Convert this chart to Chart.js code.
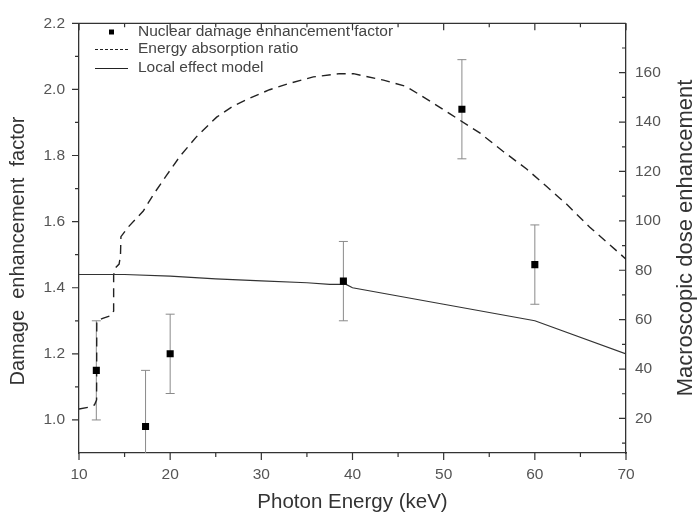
<!DOCTYPE html>
<html>
<head>
<meta charset="utf-8">
<script src="https://cdn.jsdelivr.net/npm/chart.js@4.4.0/dist/chart.umd.min.js"></script>
<style>
  html, body { margin: 0; padding: 0; background: #fff; }
</style>
</head>
<body>
<canvas id="chart" width="700" height="519"></canvas>
<script>
const FONT = '"Liberation Sans", Arial, sans-serif';

// measured points (left axis) with symmetric error bars
const pointEnergy = [11.9, 17.3, 20, 39, 52, 60];
const pointFactor = [1.15, 0.98, 1.20, 1.42, 1.94, 1.47];
const pointErr = [0.15, 0.17, 0.12, 0.12, 0.15, 0.12];

// energy absorption ratio (right axis)
const ratioEnergy = [10, 11.0, 11.7, 11.93, 11.95, 12.6, 13.6, 13.8, 13.8, 14.0, 14.4, 14.55, 14.6,
  15.4, 17.05, 18.15, 19.6, 21.1, 22.9, 25.1, 26.9, 28.8, 30.9, 33.1, 35.7, 38.6, 40.1,
  43.4, 45.9, 48.5, 50.7, 54.0, 56.5, 59.1, 61.3, 63.5, 66.0, 68.2, 70];
const ratioValue = [23.8, 24.5, 25.5, 27.5, 59.5, 60.5, 61.8, 63.5, 78, 81, 82.5, 86, 93.6,
  97.5, 104, 110.6, 118.4, 126.3, 134.1, 142, 146.5, 149.8, 153.1, 155.7, 158.3, 159.6, 159.6,
  157, 154.4, 148.5, 143.3, 135.5, 128.2, 121, 113.9, 106.7, 97.5, 90.4, 84.5];

// local effect model (left axis)
const lemEnergy = [10, 15, 20, 25, 30, 35, 37.5, 39.3, 40, 50, 60, 70];
const lemValue = [1.44, 1.44, 1.435, 1.427, 1.421, 1.415, 1.41, 1.41, 1.40, 1.35, 1.30, 1.20];

// ticks
const xTicks = [10, 20, 30, 40, 50, 60, 70];
const xMinor = [15, 25, 35, 45, 55, 65];
const yTicks = [1.0, 1.2, 1.4, 1.6, 1.8, 2.0, 2.2];
const yMinor = [1.1, 1.3, 1.5, 1.7, 1.9, 2.1];
const y2Ticks = [20, 40, 60, 80, 100, 120, 140, 160];
const y2Minor = [10, 30, 50, 70, 90, 110, 130, 150, 170];

const toXY = (xs, ys) => xs.map((v, i) => ({ x: v, y: ys[i] }));

function marks(ctx, scale, values, len, dir) {
  ctx.beginPath();
  values.forEach(v => {
    const p = scale.getPixelForValue(v);
    if (dir === 'down') { ctx.moveTo(p, scale.top); ctx.lineTo(p, scale.top + len); }
    if (dir === 'topIn') { ctx.moveTo(p, scale.chart.chartArea.top); ctx.lineTo(p, scale.chart.chartArea.top + len); }
    if (dir === 'left') { ctx.moveTo(scale.right, p); ctx.lineTo(scale.right - len, p); }
    if (dir === 'rightIn') { ctx.moveTo(scale.left, p); ctx.lineTo(scale.left - len, p); }
  });
  ctx.stroke();
}

const extras = {
  id: 'extras',
  beforeDatasetsDraw(chart) {
    const { ctx, chartArea: a, scales: { x, y } } = chart;
    ctx.save();
    ctx.beginPath();
    ctx.rect(a.left, a.top, a.width, a.height);
    ctx.clip();
    ctx.strokeStyle = '#8a8a8a';
    ctx.lineWidth = 1;
    pointEnergy.forEach((e, i) => {
      const px = x.getPixelForValue(e);
      const hi = y.getPixelForValue(pointFactor[i] + pointErr[i]);
      const lo = y.getPixelForValue(pointFactor[i] - pointErr[i]);
      ctx.beginPath();
      ctx.moveTo(px, hi); ctx.lineTo(px, lo);
      ctx.moveTo(px - 4.5, hi); ctx.lineTo(px + 4.5, hi);
      ctx.moveTo(px - 4.5, lo); ctx.lineTo(px + 4.5, lo);
      ctx.stroke();
    });
    ctx.restore();
  },
  afterDraw(chart) {
    const { ctx, chartArea: a, scales: { x, y, y2 } } = chart;
    ctx.save();
    ctx.strokeStyle = '#333';
    ctx.lineWidth = 1.3;
    // top frame
    ctx.beginPath();
    ctx.moveTo(a.left, a.top); ctx.lineTo(a.right, a.top);
    ctx.stroke();
    ctx.lineWidth = 1.2;
    marks(ctx, x, xTicks, 7, 'down');
    marks(ctx, x, xMinor, 4, 'down');
    marks(ctx, x, xTicks, 7, 'topIn');
    marks(ctx, x, xMinor, 4, 'topIn');
    marks(ctx, y, yTicks, 7, 'left');
    marks(ctx, y, yMinor, 4, 'left');
    marks(ctx, y2, y2Ticks, 7, 'rightIn');
    marks(ctx, y2, y2Minor, 4, 'rightIn');

    // axis titles
    ctx.fillStyle = '#333';
    ctx.textAlign = 'center';
    ctx.textBaseline = 'middle';
    ctx.font = '20.5px ' + FONT;
    ctx.fillText('Photon Energy (keV)', (a.left + a.right) / 2, 502);
    ctx.font = '20px ' + FONT;
    ctx.save();
    ctx.translate(18, 251);
    ctx.rotate(-Math.PI / 2);
    ctx.fillText('Damage  enhancement  factor', 0, 0);
    ctx.restore();
    ctx.font = '22px ' + FONT;
    ctx.save();
    ctx.translate(686, 238);
    ctx.rotate(-Math.PI / 2);
    ctx.fillText('Macroscopic dose enhancement', 0, 0);
    ctx.restore();

    // legend
    const lx = a.left + 16, tx = a.left + 59;
    ctx.fillStyle = '#000';
    ctx.fillRect(a.left + 30, 29.5, 5, 5);
    ctx.strokeStyle = '#222';
    ctx.lineWidth = 1;
    ctx.setLineDash([3, 2]);
    ctx.beginPath(); ctx.moveTo(lx, 49.5); ctx.lineTo(lx + 33, 49.5); ctx.stroke();
    ctx.setLineDash([]);
    ctx.beginPath(); ctx.moveTo(lx, 68.5); ctx.lineTo(lx + 33, 68.5); ctx.stroke();
    ctx.fillStyle = '#444';
    ctx.font = '15.5px ' + FONT;
    ctx.textAlign = 'left';
    ctx.fillText('Nuclear damage enhancement factor', tx, 32);
    ctx.fillText('Energy absorption ratio', tx, 49);
    ctx.fillText('Local effect model', tx, 68);
    ctx.restore();
  }
};

const tickFont = { size: 15.5, family: FONT };
const border = { display: true, color: '#333', width: 1.3 };
const noGrid = { display: false, drawTicks: false };

new Chart(document.getElementById('chart'), {
  type: 'scatter',
  data: {
    datasets: [
      {
        label: 'Nuclear damage enhancement factor',
        data: toXY(pointEnergy, pointFactor),
        yAxisID: 'y',
        pointStyle: 'rect',
        pointRadius: 5,
        pointBackgroundColor: '#000',
        pointBorderColor: '#000',
        pointBorderWidth: 0,
        order: 0
      },
      {
        label: 'Energy absorption ratio',
        type: 'line',
        data: toXY(ratioEnergy, ratioValue),
        yAxisID: 'y2',
        borderColor: '#222',
        borderWidth: 1.4,
        borderDash: [9, 6],
        pointRadius: 0,
        fill: false,
        tension: 0,
        order: 2
      },
      {
        label: 'Local effect model',
        type: 'line',
        data: toXY(lemEnergy, lemValue),
        yAxisID: 'y',
        borderColor: '#333',
        borderWidth: 1.2,
        pointRadius: 0,
        fill: false,
        tension: 0,
        order: 1
      }
    ]
  },
  options: {
    responsive: false,
    animation: false,
    layout: { padding: { top: 11, left: 0, right: 0, bottom: 0 } },
    plugins: { legend: { display: false }, tooltip: { enabled: false } },
    scales: {
      x: {
        type: 'linear', min: 10, max: 70,
        grid: noGrid, border,
        ticks: { font: tickFont, color: '#555', padding: 12 },
        afterBuildTicks: s => { s.ticks = xTicks.map(v => ({ value: v })); },
        afterFit: s => { s.height = 66; }
      },
      y: {
        type: 'linear', position: 'left', min: 0.9, max: 2.2,
        grid: noGrid, border,
        ticks: { font: tickFont, color: '#555', padding: 14, callback: v => v.toFixed(1) },
        afterBuildTicks: s => { s.ticks = yTicks.map(v => ({ value: v })); },
        afterFit: s => { s.width = 79; }
      },
      y2: {
        type: 'linear', position: 'right', min: 6, max: 180,
        grid: noGrid, border,
        ticks: { font: tickFont, color: '#555', padding: 9 },
        afterBuildTicks: s => { s.ticks = y2Ticks.map(v => ({ value: v })); },
        afterFit: s => { s.width = 74; }
      }
    }
  },
  plugins: [extras]
});
</script>
</body>
</html>
